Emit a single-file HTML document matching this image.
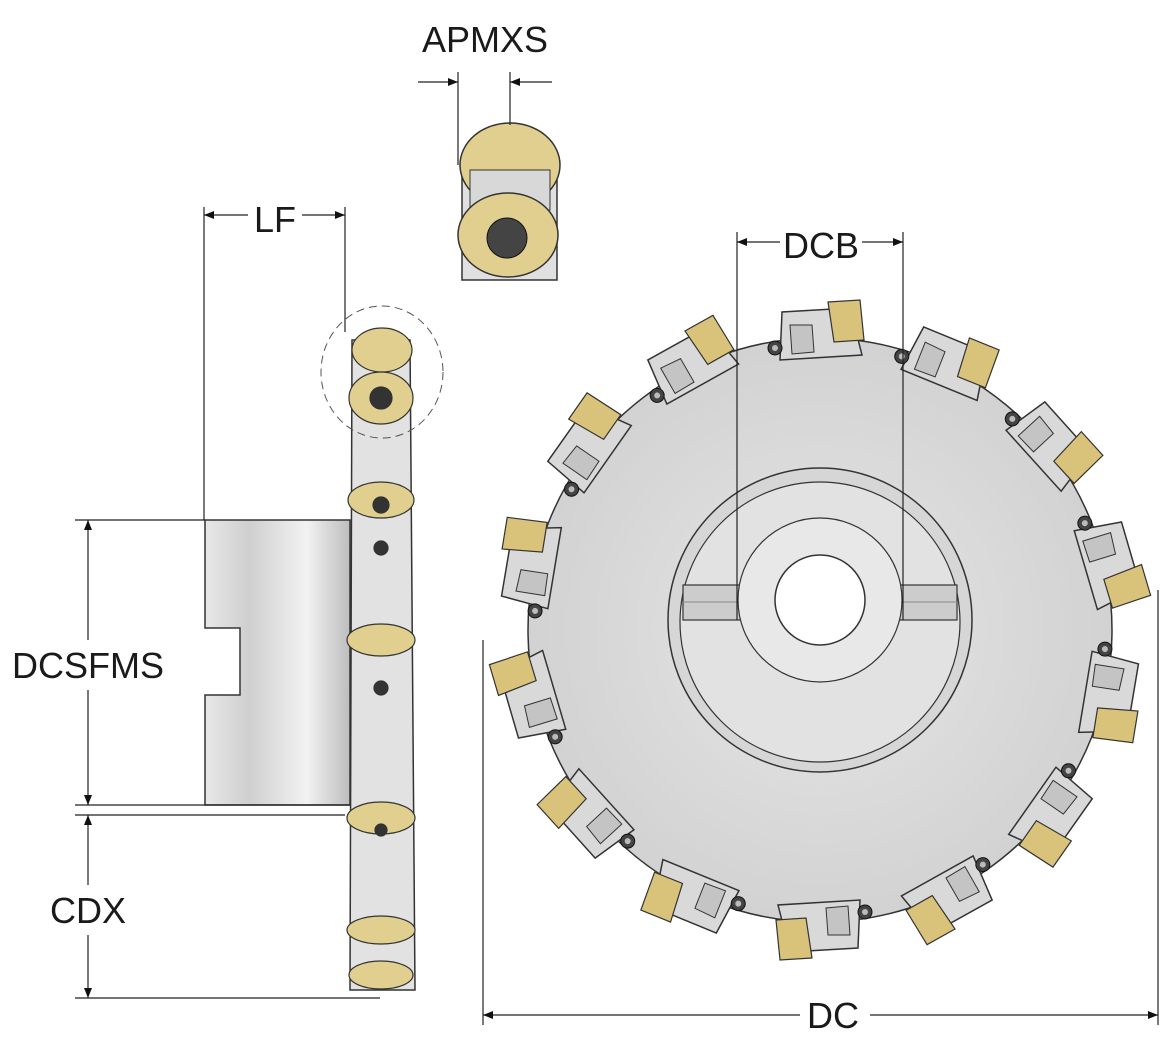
<!DOCTYPE html>
<html><head><meta charset="utf-8"><style>
html,body{margin:0;padding:0;background:#fff;}
svg{display:block;}
text{font-family:"Liberation Sans",sans-serif;font-size:36px;fill:#1a1a1a;}
</style></head><body>
<svg width="1163" height="1045" viewBox="0 0 1163 1045" xmlns="http://www.w3.org/2000/svg">
<defs>
<marker id="ar" viewBox="0 0 10 10" refX="10" refY="5" markerWidth="10" markerHeight="10" orient="auto-start-reverse" markerUnits="userSpaceOnUse">
<path d="M0,1 L10,5 L0,9 z" fill="#111"/></marker>
<linearGradient id="hub" x1="0" x2="1" y1="0" y2="0">
<stop offset="0" stop-color="#e8e8e8"/><stop offset="0.3" stop-color="#cfcfcf"/><stop offset="0.7" stop-color="#f2f2f2"/><stop offset="1" stop-color="#bdbdbd"/></linearGradient>
<radialGradient id="disk" cx="0.5" cy="0.5" r="0.5">
<stop offset="0" stop-color="#e6e6e6"/><stop offset="1" stop-color="#d2d2d2"/></radialGradient>
<g id="tooth">
<path d="M-40,-270 L-38,-318 L30,-322 L42,-275 z" fill="#d9d9d9" stroke="#333" stroke-width="1.5"/>
<path d="M-30,-305 L-8,-305 L-6,-278 L-28,-276 z" fill="#c4c4c4" stroke="#333" stroke-width="1"/>
<path d="M8,-328 L40,-330 L44,-290 L14,-288 z" fill="#d9c27a" stroke="#333" stroke-width="1.2"/>
<circle cx="-45" cy="-282" r="7" fill="#444" stroke="#111"/>
<circle cx="-45" cy="-282" r="3" fill="#bbb"/>
</g>
</defs>

<circle cx="820" cy="630" r="292" fill="url(#disk)" stroke="#333" stroke-width="1.5"/>
<g transform="translate(820,630)">
<use href="#tooth" transform="rotate(0)"/>
<use href="#tooth" transform="rotate(25.7)"/>
<use href="#tooth" transform="rotate(51.4)"/>
<use href="#tooth" transform="rotate(77.1)"/>
<use href="#tooth" transform="rotate(102.9)"/>
<use href="#tooth" transform="rotate(128.6)"/>
<use href="#tooth" transform="rotate(154.3)"/>
<use href="#tooth" transform="rotate(180)"/>
<use href="#tooth" transform="rotate(205.7)"/>
<use href="#tooth" transform="rotate(231.4)"/>
<use href="#tooth" transform="rotate(257.1)"/>
<use href="#tooth" transform="rotate(282.9)"/>
<use href="#tooth" transform="rotate(308.6)"/>
<use href="#tooth" transform="rotate(334.3)"/>
</g>
<circle cx="820" cy="620" r="152" fill="#d6d6d6" stroke="#333" stroke-width="1.5"/>
<circle cx="820" cy="622" r="140" fill="#e2e2e2" stroke="#333" stroke-width="1.2"/>
<rect x="683" y="585" width="274" height="35" fill="#cccccc" stroke="#333" stroke-width="1.2"/>
<line x1="683" y1="602" x2="957" y2="602" stroke="#888"/>
<circle cx="820" cy="600" r="82" fill="#e8e8e8" stroke="#333" stroke-width="1.2"/>
<circle cx="820" cy="600" r="45" fill="#fff" stroke="#333" stroke-width="1.5"/>

<path d="M205,520 L350,520 L350,805 L205,805 L205,695 L240,695 L240,628 L205,628 z" fill="url(#hub)" stroke="#333" stroke-width="1.5"/>
<path d="M352,340 L410,340 L415,990 L350,990 z" fill="#e2e2e2" stroke="#333" stroke-width="1.5"/>
<g stroke="#333" stroke-width="1.2">
<ellipse cx="382" cy="350" rx="30" ry="22" fill="#e0cf8e"/>
<ellipse cx="381" cy="398" rx="32" ry="26" fill="#e0cf8e"/>
<circle cx="381" cy="398" r="11" fill="#333"/>
<ellipse cx="381" cy="500" rx="33" ry="18" fill="#e0cf8e"/>
<circle cx="381" cy="505" r="8" fill="#333"/>
<ellipse cx="381" cy="640" rx="34" ry="16" fill="#e0cf8e"/>
<ellipse cx="381" cy="818" rx="34" ry="16" fill="#e0cf8e"/>
<ellipse cx="381" cy="930" rx="34" ry="14" fill="#e0cf8e"/>
<ellipse cx="381" cy="975" rx="32" ry="14" fill="#e0cf8e"/>
<circle cx="381" cy="548" r="7" fill="#333"/>
<circle cx="381" cy="688" r="7" fill="#333"/>
<circle cx="381" cy="830" r="6" fill="#333"/>
</g>
<ellipse cx="382" cy="372" rx="61" ry="66" fill="none" stroke="#555" stroke-dasharray="8,5"/>

<rect x="462" y="170" width="95" height="110" fill="#e0e0e0" stroke="#333" stroke-width="1.5"/>
<ellipse cx="510" cy="165" rx="50" ry="42" fill="#e0cf8e" stroke="#333" stroke-width="1.5"/>
<rect x="470" y="170" width="80" height="40" fill="#d8d8d8" stroke="#333"/>
<ellipse cx="508" cy="235" rx="50" ry="42" fill="#e0cf8e" stroke="#333" stroke-width="1.5"/>
<circle cx="507" cy="238" r="20" fill="#444" stroke="#111"/>

<g stroke="#222" stroke-width="1.2" fill="none">
<line x1="458" y1="72" x2="458" y2="165"/><line x1="510" y1="72" x2="510" y2="125"/>
<line x1="418" y1="82" x2="458" y2="82" marker-end="url(#ar)"/>
<line x1="552" y1="82" x2="510" y2="82" marker-end="url(#ar)"/>
<line x1="204" y1="207" x2="204" y2="520"/><line x1="345" y1="207" x2="345" y2="332"/>
<line x1="248" y1="215" x2="204" y2="215" marker-end="url(#ar)"/>
<line x1="302" y1="215" x2="345" y2="215" marker-end="url(#ar)"/>
<line x1="737" y1="232" x2="737" y2="620"/><line x1="903" y1="232" x2="903" y2="620"/>
<line x1="780" y1="242" x2="737" y2="242" marker-end="url(#ar)"/>
<line x1="862" y1="242" x2="903" y2="242" marker-end="url(#ar)"/>
<line x1="75" y1="520" x2="205" y2="520"/><line x1="75" y1="805" x2="350" y2="805"/>
<line x1="88" y1="640" x2="88" y2="520" marker-end="url(#ar)"/>
<line x1="88" y1="690" x2="88" y2="805" marker-end="url(#ar)"/>
<line x1="75" y1="815" x2="345" y2="815"/><line x1="75" y1="998" x2="380" y2="998"/>
<line x1="88" y1="885" x2="88" y2="815" marker-end="url(#ar)"/>
<line x1="88" y1="935" x2="88" y2="998" marker-end="url(#ar)"/>
<line x1="483" y1="640" x2="483" y2="1025"/><line x1="1158" y1="590" x2="1158" y2="1025"/>
<line x1="800" y1="1015" x2="483" y2="1015" marker-end="url(#ar)"/>
<line x1="870" y1="1015" x2="1158" y2="1015" marker-end="url(#ar)"/>
</g>
<text x="485" y="52" text-anchor="middle">APMXS</text>
<text x="275" y="232" text-anchor="middle">LF</text>
<text x="821" y="258" text-anchor="middle">DCB</text>
<text x="88" y="678" text-anchor="middle">DCSFMS</text>
<text x="88" y="923" text-anchor="middle">CDX</text>
<text x="833" y="1028" text-anchor="middle">DC</text>
</svg>
</body></html>
